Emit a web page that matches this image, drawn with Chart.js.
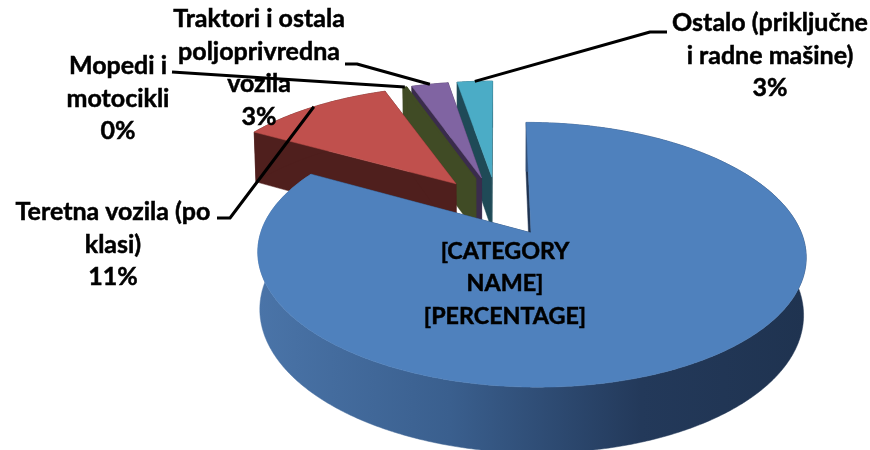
<!DOCTYPE html>
<html>
<head>
<meta charset="utf-8">
<style>
  html, body { margin: 0; padding: 0; background: #fff; }
  canvas { display: block; }
</style>
<script src="https://cdn.jsdelivr.net/npm/chart.js@4"></script>
</head>
<body>
<canvas id="vozila" width="870" height="450"></canvas>
<script>
const categories = ['[CATEGORY NAME]', 'Teretna vozila (po klasi)', 'Mopedi i motocikli', 'Traktori i ostala poljoprivredna vozila', 'Ostalo (priključne i radne mašine)'];
const shares = [83.2, 11.2, 0.3, 2.7, 2.6];
const topColors = ['#4f81bd', '#c0504d', '#404b25', '#8064a2', '#4bacc6'];
const wallColors = ['#1f3350', '#4f1f1d', '#404b25', '#3a2c4c', '#1f4a57'];

const labelLines = [
  ['[CATEGORY', 'NAME]', '[PERCENTAGE]'],
  ['Teretna vozila (po', 'klasi)', '11%'],
  ['Mopedi i', 'motocikli', '0%'],
  ['Traktori i ostala', 'poljoprivredna', 'vozila', '3%'],
  ['Ostalo (priključne', 'i radne mašine)', '3%']
];
const labelPos = [[505, 251], [113, 212], [118, 66], [259, 19], [770, 23]];
const labelSize = [23.3, 25, 25, 25, 25];
const leaderPath = [
  null,
  [[230, 218], [217, 218]],
  [[172, 72]],
  [[357, 64], [345, 64]],
  [[650, 32], [667, 32]]
];

// camera for the tilted pie, fitted to the picture
const cam = { cx: 497, cy: 206, rx: 261, ry: 120, persp: 0.16, drop: 55, shrink: 0.008 };
const explode = 0.25;

function project(u, v, z) {
  const w = 1 - cam.persp * v + cam.shrink * z;
  return [cam.cx + cam.rx * u / w, cam.cy + (cam.ry * v + cam.drop * z) / w];
}

function arcPoints(arc, ox, oy, z) {
  const pts = [];
  const n = Math.max(2, Math.ceil((arc.endAngle - arc.startAngle) / 0.01));
  for (let i = 0; i <= n; i++) {
    const a = arc.startAngle + (arc.endAngle - arc.startAngle) * i / n;
    pts.push(project(ox + Math.cos(a), oy + Math.sin(a), z));
  }
  return pts;
}

function fillPoly(ctx, pts, color) {
  ctx.beginPath();
  pts.forEach((p, i) => i ? ctx.lineTo(p[0], p[1]) : ctx.moveTo(p[0], p[1]));
  ctx.closePath();
  ctx.fillStyle = color;
  ctx.fill();
  ctx.strokeStyle = color;
  ctx.lineWidth = 0.5;
  ctx.stroke();
}

const pie3d = {
  id: 'pie3d',
  beforeDatasetDraw(chart) {
    const ctx = chart.ctx;
    const arcs = chart.getDatasetMeta(0).data;

    // back slices first, big blue one last
    for (let i = arcs.length - 1; i >= 0; i--) {
      const arc = arcs[i];
      const mid = (arc.startAngle + arc.endAngle) / 2;
      const ox = explode * Math.cos(mid);
      const oy = explode * Math.sin(mid);
      const apexTop = project(ox, oy, 0);
      const apexLow = project(ox, oy, 1);
      const top = arcPoints(arc, ox, oy, 0);
      const low = arcPoints(arc, ox, oy, 1);

      let outerFill = wallColors[i];
      if (i === 0) {
        outerFill = ctx.createLinearGradient(258, 0, 806, 0);
        outerFill.addColorStop(0, '#4a74a8');
        outerFill.addColorStop(0.35, '#3a5f8e');
        outerFill.addColorStop(0.7, '#23395a');
        outerFill.addColorStop(1, '#1f3350');
      }
      fillPoly(ctx, [apexTop, top[0], low[0], apexLow], wallColors[i]);
      fillPoly(ctx, [apexTop, top[top.length - 1], low[low.length - 1], apexLow], wallColors[i]);
      fillPoly(ctx, top.concat(low.slice().reverse()), outerFill);
      fillPoly(ctx, [apexTop].concat(top), topColors[i]);
    }

    // labels
    ctx.fillStyle = '#000';
    ctx.strokeStyle = '#000';
    ctx.lineWidth = 0.5;
    ctx.textAlign = 'center';
    ctx.textBaseline = 'middle';
    labelLines.forEach((lines, i) => {
      ctx.font = 'bold ' + labelSize[i] + 'px Lato';
      lines.forEach((t, j) => {
        ctx.fillText(t, labelPos[i][0], labelPos[i][1] + j * 32.7);
        ctx.strokeText(t, labelPos[i][0], labelPos[i][1] + j * 32.7);
      });
    });

    // leader lines start on the rim of their slice
    ctx.lineWidth = 3;
    ctx.lineJoin = 'round';
    arcs.forEach((arc, i) => {
      if (!leaderPath[i]) return;
      const mid = (arc.startAngle + arc.endAngle) / 2;
      const start = project((1 + explode) * Math.cos(mid), (1 + explode) * Math.sin(mid), 0);
      ctx.beginPath();
      ctx.moveTo(start[0], start[1]);
      leaderPath[i].forEach(p => ctx.lineTo(p[0], p[1]));
      ctx.stroke();
    });
    return false;
  }
};

new Chart(document.getElementById('vozila'), {
  type: 'pie',
  data: {
    labels: categories,
    datasets: [{
      data: shares,
      backgroundColor: topColors,
      borderWidth: 0
    }]
  },
  options: {
    responsive: false,
    animation: false,
    rotation: 0,
    plugins: {
      legend: { display: false },
      tooltip: { enabled: false }
    }
  },
  plugins: [pie3d]
});
</script>
</body>
</html>
